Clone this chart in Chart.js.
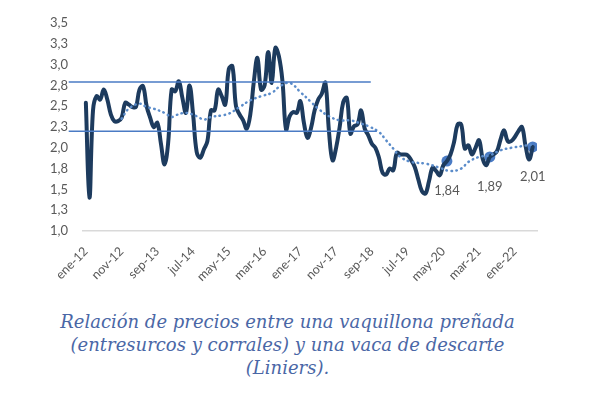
<!DOCTYPE html>
<html>
<head>
<meta charset="utf-8">
<script src="https://cdn.jsdelivr.net/npm/chart.js@4.4.1/dist/chart.umd.min.js"></script>
<style>
    body {
        margin: 0;
        background: #ffffff;
    }
    .wrap {
        position: relative;
        width: 593px;
        height: 396px;
    }
    .chart-box {
        position: absolute;
        left: 0;
        top: 0;
        width: 593px;
        height: 292px;
    }
    .caption {
        position: absolute;
        left: 0;
        top: 310px;
        width: 575px;
        text-align: center;
        font-family: 'DejaVu Serif', serif;
        font-style: italic;
        font-size: 18px;
        line-height: 23px;
        color: #4a67a6;
    }
</style>
</head>
<body>
<div class="wrap">
    <div class="chart-box"><canvas class="ratio"></canvas></div>
    <div class="caption">Relación de precios entre una vaquillona preñada<br>(entresurcos y corrales) y una vaca de descarte<br>(Liniers).</div>
</div>

<script>
/*============================
  RELACION VAQUILLONA / VACA
=============================*/

// monthly ratio, ene-12 .. jun-22
let ratioValues = [
    2.54, 1.40, 2.45, 2.62, 2.58, 2.70, 2.58, 2.40, 2.32, 2.32, 2.36, 2.54,
    2.52, 2.49, 2.49, 2.70, 2.74, 2.50, 2.36, 2.25, 2.30, 2.05, 1.80, 2.05,
    2.70, 2.68, 2.80, 2.60, 2.42, 2.75, 2.40, 1.95, 1.88, 1.98, 2.08, 2.45,
    2.45, 2.70, 2.62, 2.52, 2.95, 2.98, 2.50, 2.40, 2.33, 2.23, 2.40, 2.80,
    3.08, 2.70, 2.75, 3.15, 2.78, 3.20, 3.10, 2.80, 2.22, 2.38, 2.43, 2.42,
    2.56, 2.30, 2.12, 2.24, 2.45, 2.58, 2.65, 2.78, 2.20, 1.85, 2.00, 2.25,
    2.55, 2.60, 2.17, 2.26, 2.28, 2.45, 2.23, 2.15, 2.05, 2.00, 1.88, 1.70,
    1.68, 1.75, 1.73, 1.94, 1.92, 1.92, 1.91, 1.85, 1.77, 1.62, 1.48, 1.45,
    1.60, 1.76, 1.72, 1.67, 1.79, 1.84, 1.92, 2.07, 2.28, 2.28, 1.99, 2.03,
    1.92, 2.00, 2.09, 1.87, 1.79, 1.89, 1.92, 1.96, 2.10, 2.21, 2.08, 2.08,
    2.13, 2.20, 2.25, 2.02, 1.86, 2.01
];

// dotted trend (moving average), read at these months
let trendMonths = [10, 12, 15, 17, 19, 22, 24, 25, 28, 31, 33, 35, 38, 40, 43, 46, 49, 52, 54, 57, 60, 63, 65, 68, 71, 74, 77, 79, 82, 84, 86, 88, 91, 95, 99, 102, 105, 107, 110, 113, 116, 119, 122, 125];
let trendValues = [2.35, 2.47, 2.53, 2.49, 2.47, 2.42, 2.37, 2.39, 2.42, 2.38, 2.34, 2.37, 2.39, 2.41, 2.49, 2.57, 2.62, 2.66, 2.73, 2.78, 2.67, 2.55, 2.47, 2.38, 2.33, 2.33, 2.29, 2.26, 2.19, 2.09, 1.99, 1.89, 1.83, 1.81, 1.76, 1.72, 1.75, 1.83, 1.89, 1.91, 1.97, 2.00, 2.02, 2.04];

// band lines
let bandLevels = [2.79, 2.20];
let bandStart = -4.8;
let bandEnds = [79.7, 81.4];

// highlighted points
let markerMonths = [101, 113, 125];
let markerValues = [1.84, 1.89, 2.01];
let markerLabels = ['1,84', '1,89', '2,01'];

let xTickLabels = ['ene-12', 'nov-12', 'sep-13', 'jul-14', 'may-15', 'mar-16', 'ene-17', 'nov-17', 'sep-18', 'jul-19', 'may-20', 'mar-21', 'ene-22'];
let yTickValues = [1, 1.25, 1.5, 1.75, 2, 2.25, 2.5, 2.75, 3, 3.25, 3.5];
let yTickLabels = ['1,0', '1,3', '1,5', '1,8', '2,0', '2,3', '2,5', '2,8', '3,0', '3,3', '3,5'];


let markerText = {
    id: 'markerText',
    afterDatasetsDraw(chart) {
        let ctx = chart.ctx;
        let meta = chart.getDatasetMeta(4);
        ctx.save();
        ctx.font = '13px Lato';
        ctx.fillStyle = '#595959';
        ctx.textAlign = 'center';
        ctx.textBaseline = 'middle';
        meta.data.forEach(function (pt, i) {
            ctx.fillText(markerLabels[i], pt.x, pt.y + 30);
        });
        ctx.restore();
    }
};


function displayRatioChart() {
    let ratioCanvas = document.querySelector('.ratio').getContext('2d');
    let bandSets = bandLevels.map(function (lvl, i) {
        return {
            data: [{ x: bandStart, y: lvl }, { x: bandEnds[i], y: lvl }],
            borderColor: '#4a7bc4',
            borderWidth: 1.5,
            pointRadius: 0,
            tension: 0,
            clip: false
        };
    });

    new Chart(ratioCanvas, {
        type: 'line',
        data: {
            datasets: [
                bandSets[0],
                bandSets[1],
                {
                    data: trendMonths.map(function (m, i) { return { x: m, y: trendValues[i] }; }),
                    borderColor: '#5b8cca',
                    borderWidth: 2.5,
                    borderDash: [0.5, 4.5],
                    borderCapStyle: 'round',
                    pointRadius: 0,
                    tension: 0.4
                },
                {
                    data: ratioValues.map(function (v, i) { return { x: i, y: v }; }),
                    borderColor: '#1d3b5e',
                    borderWidth: 4,
                    borderJoinStyle: 'round',
                    borderCapStyle: 'round',
                    pointRadius: 0,
                    tension: 0.4
                },
                {
                    data: markerMonths.map(function (m, i) { return { x: m, y: markerValues[i] }; }),
                    showLine: false,
                    pointRadius: 5.5,
                    pointBackgroundColor: '#4a7bc4',
                    pointBorderColor: '#4a7bc4',
                    pointBorderWidth: 0
                }
            ]
        },
        options: {
            responsive: true,
            maintainAspectRatio: false,
            animation: false,
            layout: {
                padding: { left: 0, right: 56, top: 23, bottom: 0 }
            },
            plugins: {
                legend: { display: false },
                tooltip: { enabled: false }
            },
            scales: {
                x: {
                    type: 'linear',
                    min: -0.8,
                    max: 126.2,
                    afterFit: function (s) { s.height = 61; },
                    afterBuildTicks: function (s) {
                        s.ticks = xTickLabels.map(function (_, i) { return { value: i * 10 }; });
                    },
                    grid: { display: false, drawTicks: false },
                    border: { display: true, color: '#d9d9d9', width: 1.5 },
                    ticks: {
                        minRotation: 45,
                        maxRotation: 45,
                        padding: 13,
                        color: '#595959',
                        font: { family: 'Lato', size: 12.5 },
                        callback: function (v, i) { return xTickLabels[i]; }
                    }
                },
                y: {
                    min: 1,
                    max: 3.5,
                    afterFit: function (s) { s.width = 83; },
                    afterBuildTicks: function (s) {
                        s.ticks = yTickValues.map(function (v) { return { value: v }; });
                    },
                    grid: { display: false, drawTicks: false },
                    border: { display: false },
                    ticks: {
                        padding: 15,
                        color: '#595959',
                        font: { family: 'Lato', size: 13 },
                        callback: function (v, i) { return yTickLabels[i]; }
                    }
                }
            }
        },
        plugins: [markerText]
    });
}
displayRatioChart();
</script>
</body>
</html>
